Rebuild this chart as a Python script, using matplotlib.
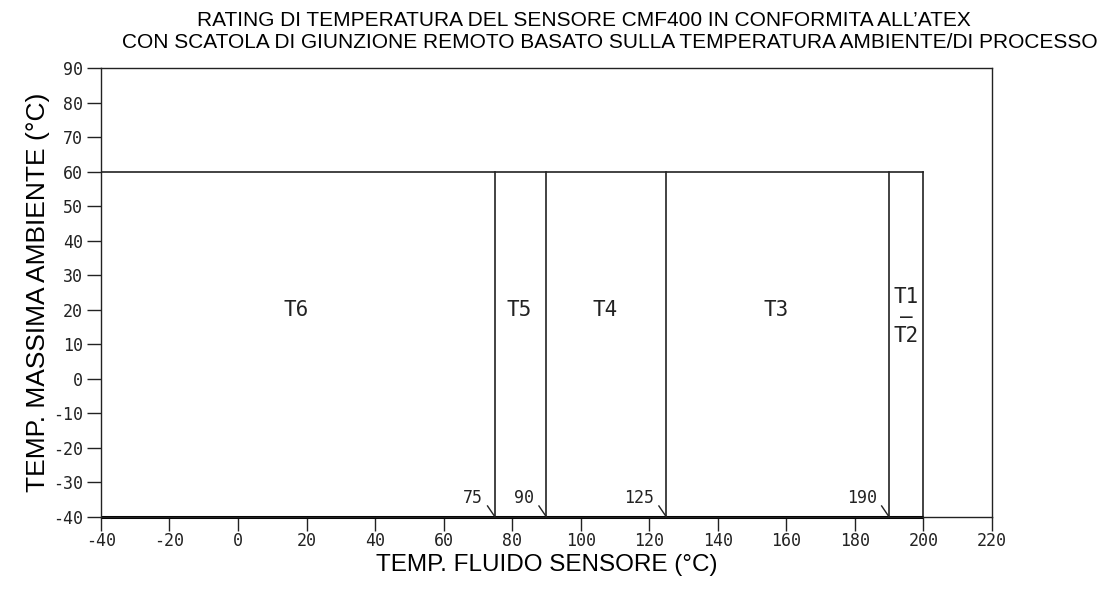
import numpy as np
import matplotlib.pyplot as plt

plt.rcParams['axes.unicode_minus'] = False

# Dati: limiti delle classi di temperatura
limiti = [75, 90, 125, 190, 200]
etichette_limiti = ["75", "90", "125", "190"]
t_max_ambiente = 60
x_min, y_min = -40, -40
classi = ["T6", "T5", "T4", "T3", "T1\n–\nT2"]
pos_classi = [17, 82, 107, 157, 195]
y_classi = [20, 20, 20, 20, 18]

xticks = np.arange(-40, 221, 20)
yticks = np.arange(-40, 91, 10)

cad = "DejaVu Sans Mono"
col = "#222222"

fig = plt.figure(figsize=(11.07, 5.94), dpi=100)
ax = fig.add_axes([0.0912, 0.1296, 0.8049, 0.7559])

# linea orizzontale a 60 °C
ax.plot([x_min, limiti[-1]], [t_max_ambiente, t_max_ambiente], color=col, lw=1.2)
# linee verticali
for xv in limiti:
    ax.plot([xv, xv], [y_min, t_max_ambiente], color=col, lw=1.2)
# fondo più spesso
ax.plot([x_min, limiti[-1]], [y_min, y_min], color="black", lw=2.2,
        solid_capstyle="butt", clip_on=False)

# frecce e etichette dei limiti
for xv, lab in zip(limiti[:-1], etichette_limiti):
    ax.plot([xv - 2.2, xv], [y_min + 3.2, y_min], color=col, lw=1.0)
    ax.text(xv - 3.5, y_min + 2.8, lab, ha="right", va="bottom", fontsize=12,
            family=cad, color=col)

# etichette delle classi
for lab, xp, yp in zip(classi, pos_classi, y_classi):
    ax.text(xp, yp, lab, ha="center", va="center", fontsize=15, family=cad,
            color=col, linespacing=0.95)

ax.set_xlim(-40, 220)
ax.set_ylim(-40, 90)
ax.set_xticks(xticks)
ax.set_yticks(yticks)
ax.tick_params(direction="out", length=10, width=1.0, labelsize=12, colors=col)
ax.tick_params(axis="x", pad=1)
ax.tick_params(axis="y", pad=3)
for lbl in ax.get_xticklabels() + ax.get_yticklabels():
    lbl.set_family(cad)
for s in ax.spines.values():
    s.set_color(col)
    s.set_linewidth(1.0)

ax.set_xlabel("TEMP. FLUIDO SENSORE (°C)", fontsize=17.5, family="Liberation Sans", labelpad=3)
ax.set_ylabel("TEMP. MASSIMA AMBIENTE (°C)", fontsize=19, family="Liberation Sans", labelpad=2)

fig.text(0.527, 0.966, "RATING DI TEMPERATURA DEL SENSORE CMF400 IN CONFORMITA ALL’ATEX",
         ha="center", va="center", fontsize=15, family="Liberation Sans")
fig.text(0.551, 0.929, "CON SCATOLA DI GIUNZIONE REMOTO BASATO SULLA TEMPERATURA AMBIENTE/DI PROCESSO",
         ha="center", va="center", fontsize=15, family="Liberation Sans")

fig.savefig("out.png", dpi=100)
